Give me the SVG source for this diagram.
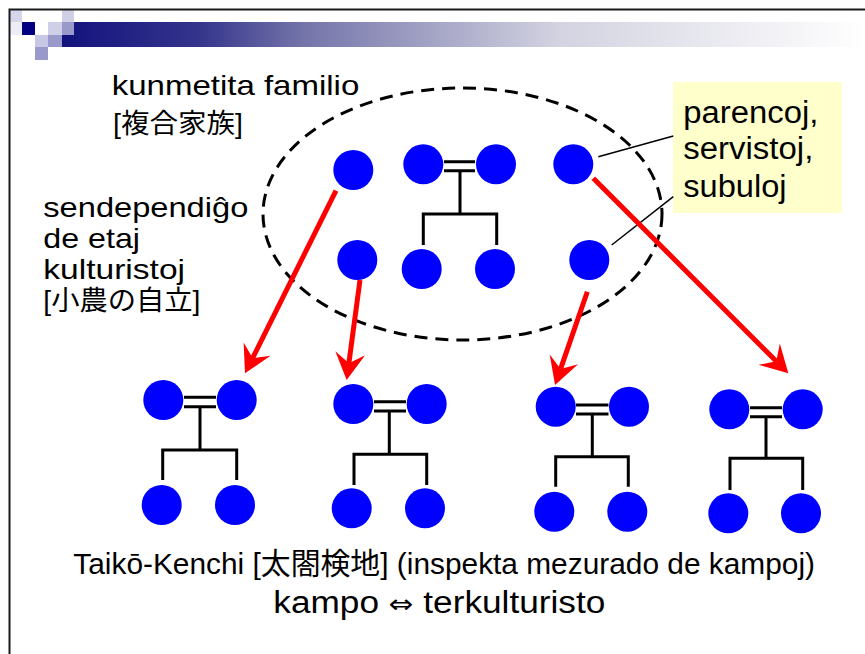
<svg xmlns="http://www.w3.org/2000/svg" width="865" height="654" viewBox="0 0 865 654">
<style>
.t{font-family:"Liberation Sans","Noto Sans CJK JP","DejaVu Sans",sans-serif;fill:#000}
.p{fill:#0000ff}
.fl{stroke:#000;stroke-width:3;fill:none}
.ra{stroke:#ff0000;stroke-width:5;fill:none;marker-end:url(#ah)}
.cl{stroke:#000;stroke-width:1.5;fill:none}
</style>
<defs>
<linearGradient id="band" gradientUnits="userSpaceOnUse" x1="62" y1="0" x2="865" y2="0">
<stop offset="0" stop-color="#12127e"/>
<stop offset="0.17" stop-color="#34348c"/>
<stop offset="0.3" stop-color="#7474aa"/>
<stop offset="0.62" stop-color="#d3d3e1"/>
<stop offset="1" stop-color="#ffffff"/>
</linearGradient>
<marker id="ah" markerUnits="userSpaceOnUse" markerWidth="40" markerHeight="40" viewBox="-20 -20 40 40" refX="0" refY="0" orient="auto" overflow="visible">
<path d="M17,0 L-10,-15 L0,0 L-10,15 Z" fill="#ff0000"/>
</marker>
</defs>
<rect width="865" height="654" fill="#ffffff"/>
<g id="banner">
<rect x="10" y="10" width="12" height="12" fill="#d6d6ea"/>
<rect x="10" y="22" width="12" height="13" fill="#ededf6"/>
<rect x="22" y="22" width="13" height="13" fill="#000080"/>
<rect x="35" y="35" width="13" height="12" fill="#c8c8e4"/>
<rect x="48" y="22" width="14" height="13" fill="#cfcfe8"/>
<rect x="48" y="35" width="14" height="12" fill="#9999cc"/>
<rect x="62" y="10" width="12" height="12" fill="#cfcfe8"/>
<rect x="62" y="22" width="12" height="13" fill="#9999cc"/>
<rect x="35" y="47" width="13" height="13" fill="#9999cc"/>
<path d="M74,22 H865 V47 H62 V35 H74 Z" fill="url(#band)"/>
</g>
<rect id="frame" x="9.5" y="9.5" width="870" height="660" fill="none" stroke="#1a1a1a" stroke-width="2"/>
<g id="clan-ellipse">
<ellipse cx="462.5" cy="214" rx="199.5" ry="126" fill="none" stroke="#000" stroke-width="3" stroke-dasharray="13 8"/>
</g>
<g id="label-kunmetita">
<text class="t" x="111.7" y="95" font-size="28.5" textLength="247.6" lengthAdjust="spacingAndGlyphs">kunmetita familio</text>
<text class="t" x="113" y="133" font-size="27" textLength="130" lengthAdjust="spacingAndGlyphs">[複合家族]</text>
</g>
<g id="label-sendependigo">
<text class="t" x="43.3" y="217.3" font-size="28.5" textLength="205" lengthAdjust="spacingAndGlyphs">sendependiĝo</text>
<text class="t" x="43.3" y="248.3" font-size="28.5" textLength="96.7" lengthAdjust="spacingAndGlyphs">de etaj</text>
<text class="t" x="43.3" y="279.3" font-size="28.5" textLength="141.7" lengthAdjust="spacingAndGlyphs">kulturistoj</text>
<text class="t" x="43.3" y="309.5" font-size="27" textLength="157" lengthAdjust="spacingAndGlyphs">[小農の自立]</text>
</g>
<g id="note-parencoj">
<rect x="673" y="82" width="169" height="131" fill="#ffffcc"/>
<text class="t" x="683.3" y="123.3" font-size="31" textLength="135" lengthAdjust="spacingAndGlyphs">parencoj,</text>
<text class="t" x="683.3" y="159.3" font-size="31" textLength="130" lengthAdjust="spacingAndGlyphs">servistoj,</text>
<text class="t" x="683.3" y="197.3" font-size="31" textLength="103.3" lengthAdjust="spacingAndGlyphs">subuloj</text>
</g>
<g id="clan-members">
<circle id="pA" class="p" cx="353.3" cy="170" r="20"/>
<circle id="pB" class="p" cx="423.3" cy="164.3" r="20"/>
<circle id="pC" class="p" cx="496" cy="164.3" r="20"/>
<circle id="pD" class="p" cx="573.3" cy="164.3" r="20"/>
<circle id="pE" class="p" cx="357.3" cy="260" r="20"/>
<circle id="pF" class="p" cx="421.7" cy="269" r="20"/>
<circle id="pG" class="p" cx="495" cy="269" r="20"/>
<circle id="pH" class="p" cx="589.3" cy="260" r="20"/>
</g>
<g id="family-1">
<circle class="p" cx="163.3" cy="400" r="20"/>
<circle class="p" cx="236.7" cy="400" r="20"/>
<circle class="p" cx="161.7" cy="505" r="20"/>
<circle class="p" cx="235" cy="505" r="20"/>
</g>
<g id="family-2">
<circle class="p" cx="353.3" cy="404" r="20"/>
<circle class="p" cx="426.7" cy="404" r="20"/>
<circle class="p" cx="351.7" cy="508.3" r="20"/>
<circle class="p" cx="425" cy="508.3" r="20"/>
</g>
<g id="family-3">
<circle class="p" cx="555.7" cy="406.7" r="20"/>
<circle class="p" cx="629" cy="406.7" r="20"/>
<circle class="p" cx="554.3" cy="511.7" r="20"/>
<circle class="p" cx="627.3" cy="511.7" r="20"/>
</g>
<g id="family-4">
<circle class="p" cx="729.3" cy="409.3" r="20"/>
<circle class="p" cx="802.7" cy="409.3" r="20"/>
<circle class="p" cx="728.3" cy="513.3" r="20"/>
<circle class="p" cx="801" cy="513.3" r="20"/>
</g>
<g id="connectors">
<path class="fl" d="M444,161.7 H475 M444,170.7 H475 M460,170.7 V214 M423.3,245 V214 H496.7 V245"/>
<path class="fl" d="M184,397.3 H216 M184,406.7 H216 M200,406.7 V450 M162.7,480 V450 H236.7 V480"/>
<path class="fl" d="M374,401.7 H406 M374,411 H406 M389.3,411 V454.3 M354,485 V454.3 H426.7 V485"/>
<path class="fl" d="M576,405 H608.5 M576,414 H608.5 M592.3,414 V456.7 M555.7,486.7 V456.7 H628.3 V486.7"/>
<path class="fl" d="M750,407.7 H782 M750,416.7 H782 M766,416.7 V458.3 M730,490 V458.3 H802.7 V490"/>
<line class="cl" x1="598.3" y1="156.7" x2="673.3" y2="136"/>
<line class="cl" x1="611.7" y1="245" x2="673.3" y2="196.7"/>
<line class="ra" x1="336" y1="190.7" x2="252.6" y2="358.1"/>
<line class="ra" x1="360" y1="280" x2="348.9" y2="363.2"/>
<line class="ra" x1="587.3" y1="291.7" x2="560.6" y2="368.9"/>
<line class="ra" x1="593.3" y1="178.3" x2="776.3" y2="361.3"/>
</g>
<g id="caption">
<text class="t" x="73.3" y="574.3" font-size="30" textLength="741.7" lengthAdjust="spacingAndGlyphs">Taikō-Kenchi [太閤検地] (inspekta mezurado de kampoj)</text>
<text class="t" x="273.3" y="613.3" font-size="31" textLength="332" lengthAdjust="spacingAndGlyphs">kampo <tspan font-family="DejaVu Sans" font-size="26">⇔</tspan> terkulturisto</text>
</g>
</svg>
